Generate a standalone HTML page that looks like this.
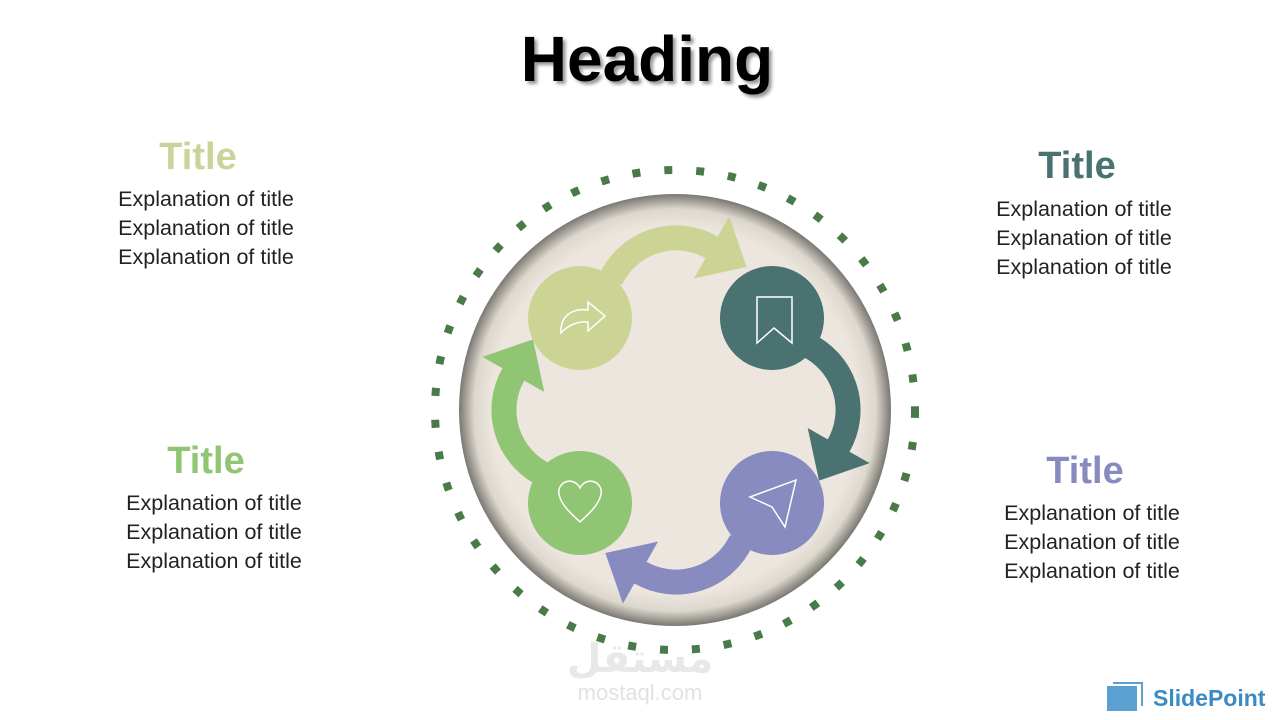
<!DOCTYPE html>
<html><head><meta charset="utf-8"><style>
body{margin:0;width:1280px;height:720px;background:#fff;position:relative;overflow:hidden;font-family:"Liberation Sans",sans-serif}
.t{position:absolute;text-align:center;width:300px;font-weight:bold;font-size:38px;line-height:40px}
.e{position:absolute;text-align:center;width:300px;font-size:21.5px;line-height:29px;color:#222}
</style></head><body>
<div style="position:absolute;left:347px;top:24px;width:600px;text-align:center;font-size:64px;font-weight:bold;line-height:70px;text-shadow:3px 3px 3px #999">Heading</div>
<div class="t" style="left:48px;top:137px;color:#c9d49a">Title</div>
<div class="e" style="left:56px;top:185px">Explanation of title<br>Explanation of title<br>Explanation of title</div>
<div class="t" style="left:927px;top:146px;color:#4a7270">Title</div>
<div class="e" style="left:934px;top:195px">Explanation of title<br>Explanation of title<br>Explanation of title</div>
<div class="t" style="left:56px;top:441px;color:#90c573">Title</div>
<div class="e" style="left:64px;top:489px">Explanation of title<br>Explanation of title<br>Explanation of title</div>
<div class="t" style="left:935px;top:451px;color:#878bbf">Title</div>
<div class="e" style="left:942px;top:499px">Explanation of title<br>Explanation of title<br>Explanation of title</div>
<svg width="1280" height="720" style="position:absolute;left:0;top:0">
<defs><radialGradient id="g" cx="0.5" cy="0.5" r="0.5">
<stop offset="0.85" stop-color="#ece6de"/><stop offset="0.93" stop-color="#ddd8ce"/><stop offset="1" stop-color="#7a7772"/></radialGradient>
<g id="ar">
<path d="M-65.3,-130.4 A72,72 0 0 1 36,-162.4" fill="none" stroke-width="25"/>
<polygon points="53,-192.4 70,-143.4 19,-132.4"/>
</g></defs>
<circle cx="675" cy="410" r="240" fill="none" stroke="#4a7a48" stroke-width="8" stroke-dasharray="8 24"/>
<circle cx="675" cy="410" r="216" fill="url(#g)"/>
<g transform="translate(676 410)" fill="#cbd494" stroke="#cbd494"><use href="#ar"/></g>
<g transform="translate(676 410) rotate(90)" fill="#4a7270" stroke="#4a7270"><use href="#ar"/></g>
<g transform="translate(676 410) rotate(180)" fill="#878bbf" stroke="#878bbf"><use href="#ar"/></g>
<g transform="translate(676 410) rotate(270)" fill="#90c573" stroke="#90c573"><use href="#ar"/></g>
<circle cx="580" cy="318" r="52" fill="#cbd494"/>
<circle cx="772" cy="318" r="52" fill="#4a7270"/>
<circle cx="580" cy="503" r="52" fill="#90c573"/>
<circle cx="772" cy="503" r="52" fill="#878bbf"/>
<g fill="none" stroke="#fff" stroke-width="1.5">
<path d="M561,333 C560,316 572,308 588,310 L588,302 L605,316 L588,331 L588,322 C578,321 568,325 561,333Z"/>
<path d="M757,297 L792,297 L792,343 L774,328 L757,343Z"/>
<path d="M580,488 C574,476 557,481 559,494 C561,506 574,516 580,522 C586,516 599,506 601,494 C603,481 586,476 580,488Z"/>
<path d="M750,497 L796,480 L785,527 L772,507Z"/>
</g>
<rect x="1107" y="686" width="30" height="25" fill="#5aa0d0"/>
<path d="M1113,683 H1142 V706" fill="none" stroke="#5aa0d0" stroke-width="2"/>
<text x="1153" y="706" font-family="Liberation Sans" font-weight="bold" font-size="23" fill="#3a8ac4">SlidePoint</text>
<text x="640" y="700" text-anchor="middle" font-family="Liberation Sans" font-size="22" fill="#e2e2e2">mostaql.com</text>
<text x="640" y="672" text-anchor="middle" font-family="Liberation Sans,DejaVu Sans,sans-serif" font-weight="bold" font-size="40" fill="#e8e8e8">مستقل</text>
</svg>
</body></html>
